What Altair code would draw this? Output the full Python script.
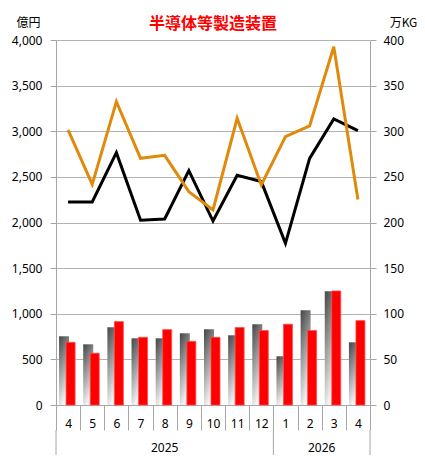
import altair as alt
import pandas as pd

months = ["4", "5", "6", "7", "8", "9", "10", "11", "12", "1", "2", "3", "4"]
years = ["2025"] * 9 + ["2026"] * 4
gray_bar = [753, 665, 852, 731, 731, 786, 830, 764, 885, 534, 1038, 1247, 687]        # 億円
red_bar = [68.7, 56.7, 91.4, 74.2, 82.6, 69.8, 74.2, 84.9, 81.6, 88.5, 81.6, 125.0, 92.5]  # 万KG
black_line = [2225, 2225, 2765, 2024, 2038, 2568, 2016, 2517, 2448, 1772, 2703, 3134, 3006]  # 億円
orange_line = [301.4, 241.8, 332.4, 270.3, 273.6, 233.8, 213.7, 314.2, 241.1, 294.1, 305.8, 392.6, 225.3]  # 万KG
year_names = ["2025", "2026"]
year_start = [0, 9]
year_end = [9, 13]

df = pd.DataFrame({
    "idx": list(range(len(months))),
    "month": months,
    "year": years,
    "gray": gray_bar,
    "red": red_bar,
    "black": black_line,
    "orange": orange_line,
})
ydf = pd.DataFrame({"year": year_names, "start": year_start, "end": year_end})
bdf = pd.DataFrame({"b": sorted(set(year_start + year_end))})

W, H = 314, 365
FONT = "Noto Sans"
AX = "#a6a6a6"

label_expr = "[" + ",".join(f"'{m}'" for m in months) + "][datum.value]"
xscale = alt.Scale(paddingInner=0, paddingOuter=0)
x_axis = alt.Axis(title=None, labelExpr=label_expr, labelAngle=0, tickBand="extent",
                  tickSize=25, tickColor=AX, domainColor=AX, labelPadding=-7,
                  labelBaseline="middle", labelFontSize=12, labelColor="#000",
                  labelFont=FONT, grid=False)
x_main = alt.X("idx:O", scale=xscale, axis=x_axis)
x_hidden = alt.X("idx:O", scale=xscale, axis=None)

yl_scale = alt.Scale(domain=[0, 4000], nice=False, zero=True)
yl_axis = alt.Axis(title="億円", values=list(range(0, 4001, 500)), format=",d", grid=True,
                   gridColor="#b3b3b3", domainColor=AX, tickColor=AX, tickSize=6,
                   labelPadding=8, labelFontSize=12, labelColor="#000", labelFont=FONT,
                   titleAngle=0, titleX=-28, titleY=-18, titleAlign="center",
                   titleBaseline="middle", titleFontSize=12, titleFontWeight="normal",
                   titleFont="Noto Sans CJK JP", titleColor="#000")
yr_scale = alt.Scale(domain=[0, 400], nice=False, zero=True)
yr_axis = alt.Axis(title="万KG", orient="right", values=list(range(0, 401, 50)), format="d",
                   grid=False, domainColor=AX, tickColor=AX, tickSize=6,
                   labelPadding=7, labelFontSize=12, labelColor="#000", labelFont=FONT,
                   titleAngle=0, titleX=33, titleY=-18, titleAlign="center",
                   titleBaseline="middle", titleFontSize=12, titleFontWeight="normal",
                   titleFont="Noto Sans CJK JP", titleColor="#000")

base = alt.Chart(df)

gray_fill = alt.Gradient(
    gradient="linear",
    stops=[alt.GradientStop(color="#444444", offset=0),
           alt.GradientStop(color="#f4f4f4", offset=1)],
    x1=0, y1=0, x2=0.35, y2=1,
)

gray_bars = base.mark_bar(width=10, xOffset=-4, fill=gray_fill).encode(
    x=x_main, y=alt.Y("gray:Q", scale=yl_scale, axis=yl_axis))
black = base.mark_line(color="#000000", strokeWidth=3).encode(
    x=x_main, y=alt.Y("black:Q", scale=yl_scale, axis=yl_axis))
left = alt.layer(gray_bars, black)

red_bars = base.mark_bar(width=9, xOffset=2.5, fill="#ff0000", stroke="#ff4d4d",
                         strokeWidth=0.8).encode(
    x=x_hidden, y=alt.Y("red:Q", scale=yr_scale, axis=yr_axis))
orange = base.mark_line(color="#e08a0c", strokeWidth=3).encode(
    x=x_hidden, y=alt.Y("orange:Q", scale=yr_scale, axis=yr_axis))
right = alt.layer(red_bars, orange)

yscale_q = alt.Scale(domain=[0, 13], nice=False, zero=False)
year_text = alt.Chart(ydf).transform_calculate(mid="(datum.start + datum.end) / 2").mark_text(
    fontSize=12, font=FONT, color="#000", baseline="middle", align="center").encode(
    x=alt.X("mid:Q", scale=yscale_q, axis=None), y=alt.value(H + 43), text="year:N")
year_rules = alt.Chart(bdf).mark_rule(color=AX, strokeWidth=1).encode(
    x=alt.X("b:Q", scale=yscale_q, axis=None), y=alt.value(H + 25), y2=alt.value(H + 50))
year_layer = alt.layer(year_rules, year_text)

chart = alt.layer(left, right, year_layer).resolve_scale(
    x="independent", y="independent"
).properties(
    width=W, height=H,
    title=alt.TitleParams("半導体等製造装置", color="#ff0000", fontSize=16, fontWeight="bold",
                          font="Noto Sans CJK JP", anchor="middle", offset=-16),
    padding={"left": 48, "top": 32, "right": 47, "bottom": 50},
    autosize=alt.AutoSizeParams(type="none"),
).configure_view(stroke=None).configure(background="white")

chart.save("out.html", embed_options={"renderer": "svg", "actions": False})
